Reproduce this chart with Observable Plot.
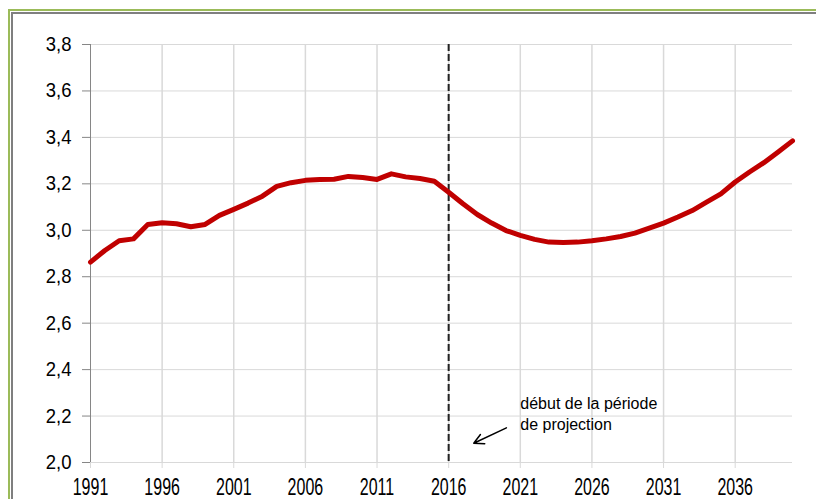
<!DOCTYPE html>
<html>
<head>
<meta charset="utf-8">
<script src="https://cdn.jsdelivr.net/npm/d3@7"></script>
<script src="https://cdn.jsdelivr.net/npm/@observablehq/plot@0.6"></script>
<style>
  html, body { margin: 0; padding: 0; background: #fff; }
  #wrap { position: relative; width: 816px; height: 499px; overflow: hidden; background: #fff; }
  #wrap svg { position: absolute; left: 0; top: 0; }
  .frame { position: absolute; width: 2000px; height: 2000px; pointer-events: none; }
  .f1 { left: 8px; top: 9px; border-left: 2px solid #9bbb59; border-top: 2px solid #9bbb59; }
  .f2 { left: 11px; top: 12px; border-left: 2px solid #7f7f7f; border-top: 2px solid #7f7f7f; }
</style>
</head>
<body>
<div id="wrap"><div class="frame f1"></div><div class="frame f2"></div></div>
<script>
const years = [1991,1992,1993,1994,1995,1996,1997,1998,1999,2000,
               2001,2002,2003,2004,2005,2006,2007,2008,2009,2010,
               2011,2012,2013,2014,2015,2016,2017,2018,2019,2020,
               2021,2022,2023,2024,2025,2026,2027,2028,2029,2030,
               2031,2032,2033,2034,2035,2036,2037,2038,2039,2040];
const values = [2.863,2.913,2.955,2.963,3.025,3.032,3.028,3.015,3.025,3.064,
                3.090,3.117,3.147,3.189,3.205,3.215,3.219,3.220,3.232,3.227,
                3.219,3.243,3.230,3.223,3.211,3.164,3.114,3.068,3.031,2.999,
                2.978,2.961,2.949,2.947,2.949,2.955,2.963,2.973,2.988,3.009,
                3.031,3.057,3.085,3.121,3.157,3.208,3.251,3.291,3.337,3.385];
const xTicks = [1991,1996,2001,2006,2011,2016,2021,2026,2031,2036];
const yTicks = [2.0,2.2,2.4,2.6,2.8,3.0,3.2,3.4,3.6,3.8];
const projectionStart = 2016;
const noteLines = ["début de la période", "de projection"];
const noteX = [2021.0, 2021.0];
const noteY = [2.254, 2.160];
const arrowFrom = {x: 2020.03, y: 2.149};
const arrowTo = {x: 2017.75, y: 2.083};

const data = years.map((year, i) => ({year, value: values[i]}));
const notes = noteLines.map((t, i) => ({t, x: noteX[i], y: noteY[i]}));
const fmt = d => d.toFixed(1).replace(".", ",");

const chart = Plot.plot({
  width: 816,
  height: 499,
  marginLeft: 90,
  marginRight: 24,
  marginTop: 44,
  marginBottom: 37,
  style: {fontFamily: "'Liberation Sans', Arial, sans-serif", background: "transparent", color: "black"},
  x: {domain: [1991, 2040]},
  y: {domain: [2.0, 3.8]},
  marks: [
    Plot.gridY(yTicks, {stroke: "#d9d9d9", strokeOpacity: 1}),
    Plot.gridX(xTicks.filter(d => d > 1991), {stroke: "#d9d9d9", strokeOpacity: 1, strokeWidth: 1.5}),
    Plot.ruleY([2.0], {stroke: "#d9d9d9"}),
    Plot.ruleX([1991], {stroke: "#868686"}),
    Plot.axisX(xTicks, {tickSize: 6, tickPadding: 10, stroke: "#d9d9d9", fill: "black", fontSize: 16, tickFormat: d => String(d), label: null}),
    Plot.axisY(yTicks, {tickSize: 8, tickPadding: 11, stroke: "#868686", fill: "black", fontSize: 18.5, tickFormat: fmt, label: null}),
    Plot.ruleX([projectionStart], {stroke: "#222", strokeWidth: 2, strokeDasharray: "7,3"}),
    Plot.line(data, {x: "year", y: "value", stroke: "#c00000", strokeWidth: 5, strokeLinejoin: "round", strokeLinecap: "round"}),
    Plot.arrow([{}], {x1: () => arrowFrom.x, y1: () => arrowFrom.y, x2: () => arrowTo.x, y2: () => arrowTo.y, stroke: "black", strokeWidth: 1.5, headLength: 11, headAngle: 55}),
    Plot.text(notes, {x: "x", y: "y", text: "t", textAnchor: "start", fontSize: 16, fill: "black"})
  ]
});

document.getElementById("wrap").insertBefore(chart, document.getElementById("wrap").firstChild);

function stretch(selector, sy) {
  d3.select(chart).selectAll(selector).each(function() {
    const t = this.getAttribute("transform");
    if (t) {
      this.setAttribute("transform", t + ` scale(1,${sy})`);
    } else {
      const x = +this.getAttribute("x") || 0, y = +this.getAttribute("y") || 0;
      this.setAttribute("transform", `translate(${x},${y}) scale(1,${sy}) translate(${-x},${-y})`);
    }
  });
}
stretch('g[aria-label="x-axis tick label"] text', 1.45);
stretch('g[aria-label="y-axis tick label"] text', 1.1);
</script>
</body>
</html>
